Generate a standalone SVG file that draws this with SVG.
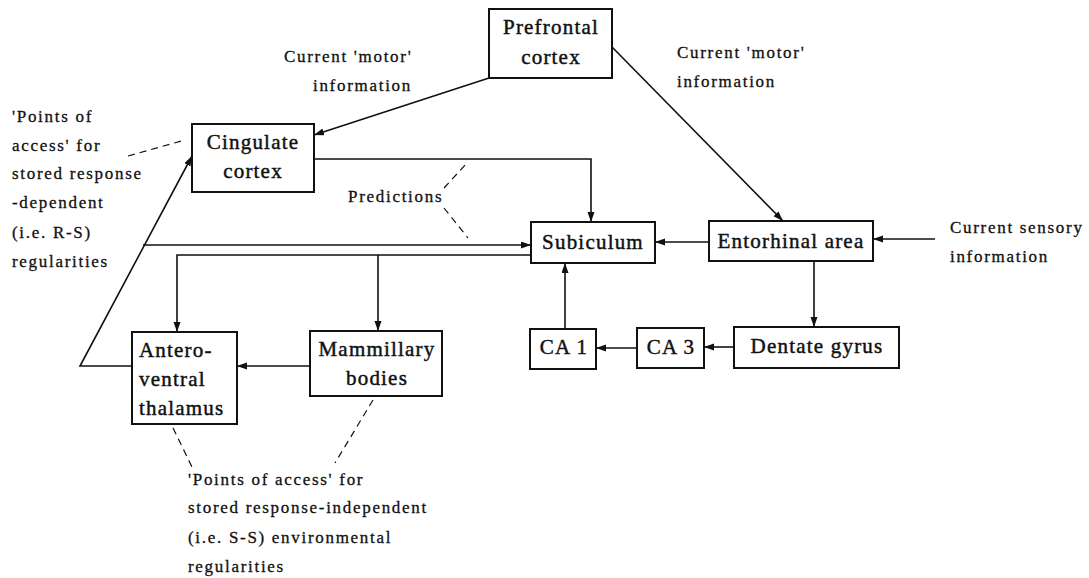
<svg xmlns="http://www.w3.org/2000/svg" width="1089" height="578" viewBox="0 0 1089 578">
  <style>
    .box { fill: #fff; stroke: #111; stroke-width: 2; }
    .node { font-family: "Liberation Serif", "Times New Roman", serif; font-size: 21px; letter-spacing: 1.2px; fill: #111; stroke: #111; stroke-width: 0.45; text-anchor: middle; }
    .node.left { text-anchor: start; }
    .lbl { font-family: "Liberation Serif", "Times New Roman", serif; font-size: 17px; letter-spacing: 1.7px; fill: #111; stroke: #111; stroke-width: 0.3; }
    .wire { fill: none; stroke: #111; stroke-width: 1.6; }
    .dash { fill: none; stroke: #111; stroke-width: 1.2; stroke-dasharray: 7 5; }
  </style>
  <defs>
    <marker id="arr" markerUnits="userSpaceOnUse" markerWidth="11" markerHeight="8" refX="10" refY="3.5" orient="auto">
      <path d="M0,0 L10,3.5 L0,7 z" fill="#111"/>
    </marker>
  </defs>
  <rect width="1089" height="578" fill="#fff"/>

  <g id="connectors">
    <path class="wire" d="M489,78 L314,135" marker-end="url(#arr)"/>
    <path class="wire" d="M612,47 L783,221" marker-end="url(#arr)"/>
    <path class="wire" d="M314,159 H591 V222" marker-end="url(#arr)"/>
    <path class="wire" d="M132,366 H80 L192,156" marker-end="url(#arr)"/>
    <path class="wire" d="M143,245 H531" marker-end="url(#arr)"/>
    <path class="wire" d="M531,255 H177 V332" marker-end="url(#arr)"/>
    <path class="wire" d="M378,255 V331" marker-end="url(#arr)"/>
    <path class="wire" d="M310,366 H237" marker-end="url(#arr)"/>
    <path class="wire" d="M709,242 H655" marker-end="url(#arr)"/>
    <path class="wire" d="M935,239 H873" marker-end="url(#arr)"/>
    <path class="wire" d="M814,261 V327" marker-end="url(#arr)"/>
    <path class="wire" d="M734,347 H704" marker-end="url(#arr)"/>
    <path class="wire" d="M637,348 H596" marker-end="url(#arr)"/>
    <path class="wire" d="M565,329 V263" marker-end="url(#arr)"/>
    <!-- dashed annotation pointers -->
    <path class="dash" d="M128,156 L185,140"/>
    <path class="dash" d="M444,188 L467,163"/>
    <path class="dash" d="M444,208 L468,238"/>
    <path class="dash" d="M173,428 L192,467"/>
    <path class="dash" d="M373,400 L335,463"/>
  </g>

  <g id="prefrontal">
    <rect class="box" x="489" y="9" width="123" height="69"/>
    <text class="node" x="551" y="34">Prefrontal</text>
    <text class="node" x="551" y="64">cortex</text>
  </g>
  <g id="cingulate">
    <rect class="box" x="192" y="124" width="122" height="68"/>
    <text class="node" x="253" y="149">Cingulate</text>
    <text class="node" x="253" y="178">cortex</text>
  </g>
  <g id="subiculum">
    <rect class="box" x="531" y="222" width="124" height="41"/>
    <text class="node" x="593" y="249">Subiculum</text>
  </g>
  <g id="entorhinal">
    <rect class="box" x="709" y="221" width="164" height="40"/>
    <text class="node" x="791" y="248">Entorhinal area</text>
  </g>
  <g id="dentate">
    <rect class="box" x="734" y="327" width="165" height="41"/>
    <text class="node" x="817" y="353">Dentate gyrus</text>
  </g>
  <g id="ca3">
    <rect class="box" x="637" y="328" width="67" height="40"/>
    <text class="node" x="671" y="354">CA 3</text>
  </g>
  <g id="ca1">
    <rect class="box" x="530" y="329" width="66" height="40"/>
    <text class="node" x="564" y="354">CA 1</text>
  </g>
  <g id="mammillary">
    <rect class="box" x="310" y="331" width="132" height="65"/>
    <text class="node" x="377" y="356">Mammillary</text>
    <text class="node" x="377" y="385">bodies</text>
  </g>
  <g id="anteroventral">
    <rect class="box" x="132" y="332" width="105" height="92"/>
    <text class="node left" x="139" y="357">Antero-</text>
    <text class="node left" x="139" y="386">ventral</text>
    <text class="node left" x="139" y="415">thalamus</text>
  </g>

  <g id="labels">
    <text class="lbl" x="284" y="62">Current 'motor'</text>
    <text class="lbl" x="313" y="91">information</text>
    <text class="lbl" x="677" y="58">Current 'motor'</text>
    <text class="lbl" x="677" y="87">information</text>
    <text class="lbl" x="950" y="233">Current sensory</text>
    <text class="lbl" x="950" y="262">information</text>
    <text class="lbl" x="348" y="202">Predictions</text>
    <text class="lbl" x="12" y="122">'Points of</text>
    <text class="lbl" x="12" y="151">access' for</text>
    <text class="lbl" x="12" y="179">stored response</text>
    <text class="lbl" x="12" y="208">-dependent</text>
    <text class="lbl" x="12" y="238">(i.e. R-S)</text>
    <text class="lbl" x="12" y="267">regularities</text>
    <text class="lbl" x="188" y="485">'Points of access' for</text>
    <text class="lbl" x="188" y="513">stored response-independent</text>
    <text class="lbl" x="188" y="543">(i.e. S-S) environmental</text>
    <text class="lbl" x="188" y="572">regularities</text>
  </g>
</svg>
